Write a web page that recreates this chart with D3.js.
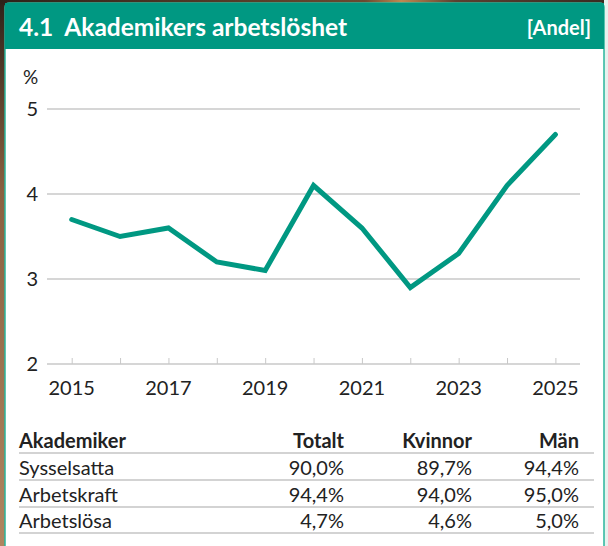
<!DOCTYPE html>
<html>
<head>
<meta charset="utf-8">
<script src="https://cdn.jsdelivr.net/npm/d3@7"></script>
<style>
  html, body { margin: 0; padding: 0; background: #fff; }
  svg { display: block; font-family: Lato, "Open Sans", sans-serif; }
</style>
</head>
<body>
<svg id="chart" width="608" height="546"></svg>
<script>
// ---- data ----
const title = "4.1  Akademikers arbetslöshet";
const unitLabel = "[Andel]";
const yAxisUnit = "%";
const years = [2015, 2016, 2017, 2018, 2019, 2020, 2021, 2022, 2023, 2024, 2025];
const unemployment = [3.7, 3.5, 3.6, 3.2, 3.1, 4.1, 3.6, 2.9, 3.3, 4.1, 4.7];
const yTicks = [2, 3, 4, 5];
const xTickLabels = [2015, 2017, 2019, 2021, 2023, 2025];

const tableColumns = ["Akademiker", "Totalt", "Kvinnor", "Män"];
const tableRowNames = ["Sysselsatta", "Arbetskraft", "Arbetslösa"];
const totalt = ["90,0%", "94,4%", "4,7%"];
const kvinnor = ["89,7%", "94,0%", "4,6%"];
const man = ["94,4%", "95,0%", "5,0%"];

// ---- drawing ----
const svg = d3.select("#chart");
const W = 608, H = 546;
const teal = "#009882";

// background (photo-like surroundings)
const defs = svg.append("defs");
const lg = defs.append("linearGradient").attr("id", "bgL").attr("x1", 0).attr("y1", 0).attr("x2", 0).attr("y2", 1);
lg.append("stop").attr("offset", "0%").attr("stop-color", "#2e2219");
lg.append("stop").attr("offset", "35%").attr("stop-color", "#8a6040");
lg.append("stop").attr("offset", "100%").attr("stop-color", "#b08560");
const tg = defs.append("linearGradient").attr("id", "bgT").attr("x1", 0).attr("y1", 0).attr("x2", 1).attr("y2", 0);
tg.append("stop").attr("offset", "0%").attr("stop-color", "#2e2219");
tg.append("stop").attr("offset", "60%").attr("stop-color", "#6a4a30");
tg.append("stop").attr("offset", "66%").attr("stop-color", "#c08850");
tg.append("stop").attr("offset", "75%").attr("stop-color", "#5a4030");
tg.append("stop").attr("offset", "100%").attr("stop-color", "#3a2a20");
svg.append("rect").attr("x", 0).attr("y", 0).attr("width", W).attr("height", H).attr("fill", "url(#bgL)");
svg.append("rect").attr("x", 0).attr("y", 0).attr("width", W).attr("height", 4).attr("fill", "url(#bgT)");
svg.append("rect").attr("x", 604).attr("y", 0).attr("width", 4).attr("height", H).attr("fill", "#e6f2ee");

// card
svg.append("rect").attr("x", 5).attr("y", 3).attr("width", 599).attr("height", 560)
  .attr("rx", 4).attr("fill", "#fff").attr("stroke", "#2ab59c").attr("stroke-width", 1.5);
svg.append("rect").attr("x", 5).attr("y", 3).attr("width", 599).attr("height", 46).attr("fill", teal);

svg.append("text").attr("x", 19).attr("y", 36).attr("fill", "#fff")
  .attr("font-size", 24.5).attr("font-weight", 700).attr("xml:space", "preserve").text(title);
svg.append("text").attr("x", 591).attr("y", 35).attr("fill", "#fff").attr("text-anchor", "end")
  .attr("font-size", 20).attr("font-weight", 700).text(unitLabel);

// scales
const x = d3.scaleLinear().domain([2015, 2025]).range([71.7, 555.4]);
const y = d3.scaleLinear().domain([2, 5]).range([364, 109]);
const gridX0 = 47, gridX1 = 580;

// gridlines
svg.append("g").selectAll("line").data(yTicks.filter(d => d !== 2)).join("line")
  .attr("x1", gridX0).attr("x2", gridX1).attr("y1", d => y(d)).attr("y2", d => y(d))
  .attr("stroke", "#c8c8c8").attr("stroke-width", 1.5);

// y labels
svg.append("g").selectAll("text").data(yTicks).join("text")
  .attr("x", 38).attr("y", d => y(d)).attr("dy", "0.35em").attr("text-anchor", "end")
  .attr("font-size", 20).attr("fill", "#222").text(d => d);
svg.append("text").attr("x", 23).attr("y", 84).attr("font-size", 19).attr("fill", "#222").text(yAxisUnit);

// x axis
const xAxis = d3.axisBottom(x).tickValues(years).tickSize(-6).tickFormat("");
const gx = svg.append("g").attr("transform", `translate(0,${y(2)})`).call(xAxis);
gx.select(".domain").remove();
gx.selectAll(".tick line").attr("stroke", "#c8c8c8").attr("stroke-width", 1);
svg.append("line").attr("x1", gridX0).attr("x2", gridX1).attr("y1", y(2)).attr("y2", y(2))
  .attr("stroke", "#c8c8c8").attr("stroke-width", 1.5);
svg.append("g").selectAll("text").data(xTickLabels).join("text")
  .attr("x", d => x(d)).attr("y", 395).attr("text-anchor", "middle")
  .attr("font-size", 20).attr("fill", "#222").text(d => d);

// line
const line = d3.line().x((d, i) => x(years[i])).y(d => y(d));
svg.append("path").datum(unemployment).attr("d", line)
  .attr("fill", "none").attr("stroke", teal).attr("stroke-width", 5)
  .attr("stroke-linejoin", "miter").attr("stroke-linecap", "round");

// table
const colX = [19, 344, 472, 579];
const anchors = ["start", "end", "end", "end"];
const tbl = svg.append("g").attr("font-size", 20).attr("fill", "#222");
tableColumns.forEach((c, i) => {
  tbl.append("text").attr("x", colX[i]).attr("y", 448).attr("text-anchor", anchors[i])
    .attr("font-weight", 700).text(c);
});
const rowY = [475, 502, 528];
const lineY = [453, 480, 507, 533];
lineY.forEach(ly => {
  tbl.append("line").attr("x1", 19).attr("x2", 594).attr("y1", ly).attr("y2", ly)
    .attr("stroke", "#c4c4c4").attr("stroke-width", 1.5);
});
tableRowNames.forEach((r, i) => {
  const vals = [r, totalt[i], kvinnor[i], man[i]];
  vals.forEach((v, j) => {
    tbl.append("text").attr("x", colX[j]).attr("y", rowY[i]).attr("text-anchor", anchors[j]).text(v);
  });
});
</script>
</body>
</html>
